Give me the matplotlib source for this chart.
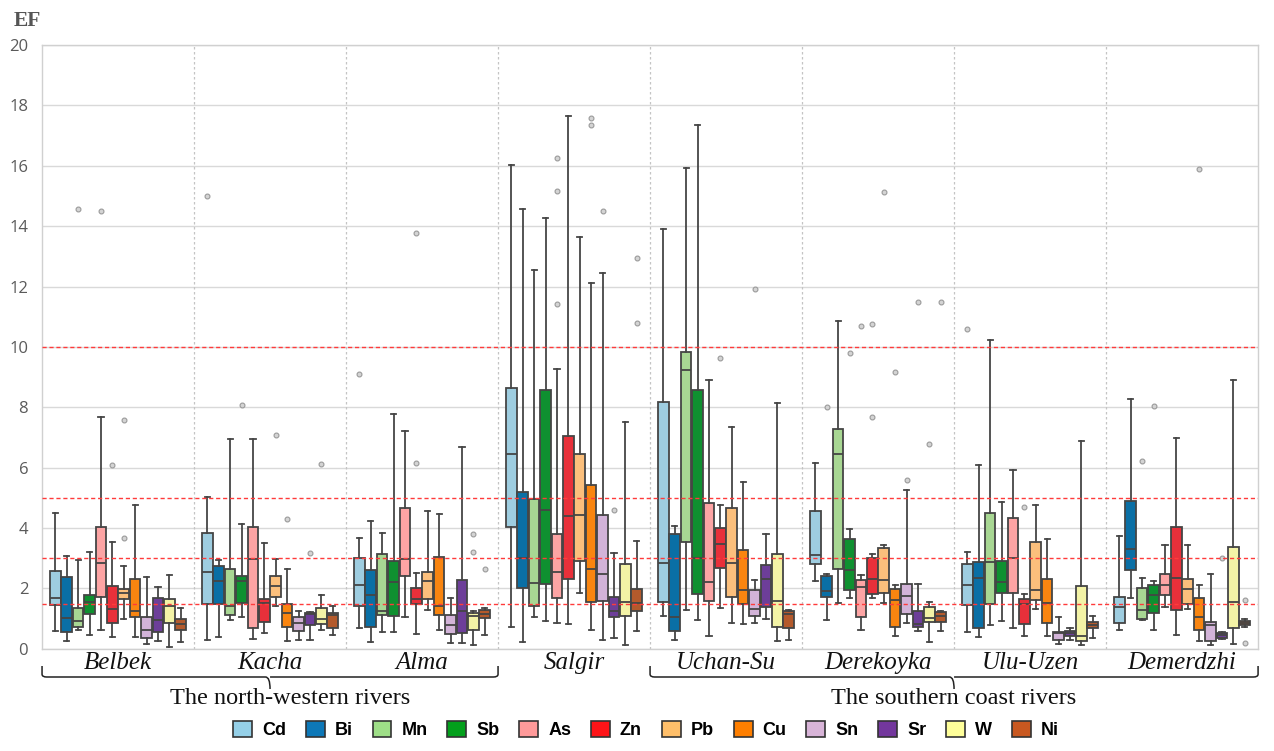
"""
EF box plots for the Crimean rivers, 12 elements per river.
"""

import numpy as np
import matplotlib.pyplot as plt
from matplotlib.path import Path
from matplotlib.patches import PathPatch, Patch
from matplotlib.transforms import blended_transform_factory

plt.rcParams.update({
    'font.family': ['Open Sans', 'DejaVu Sans'],
    'axes.edgecolor': '#d0d0d0',
    'axes.linewidth': 1.0,
})

elements = ['Cd', 'Bi', 'Mn', 'Sb', 'As', 'Zn', 'Pb', 'Cu', 'Sn', 'Sr', 'W', 'Ni']
rivers = ['Belbek', 'Kacha', 'Alma', 'Salgir', 'Uchan-Su',
          'Derekoyka', 'Ulu-Uzen', 'Demerdzhi']

# (whisker low, q1, median, q3, whisker high) for each element, in order above
belbek = [(0.60, 1.45, 1.69, 2.58, 4.50), (0.26, 0.57, 1.02, 2.38, 3.08),
          (0.64, 0.74, 0.91, 1.34, 2.94), (0.46, 1.17, 1.55, 1.80, 3.22),
          (0.64, 1.71, 2.83, 4.05, 7.67), (0.40, 0.85, 1.31, 2.08, 3.54),
          (1.00, 1.66, 1.85, 1.99, 2.74), (0.39, 1.04, 1.25, 2.31, 4.75),
          (0.15, 0.36, 0.64, 1.06, 2.38), (0.26, 0.57, 0.96, 1.70, 2.05),
          (0.06, 0.85, 1.41, 1.66, 2.45), (0.24, 0.61, 0.81, 0.99, 1.36)]
belbek_out = [[], [], [14.58], [], [14.51], [6.09], [7.59, 3.66], [], [], [], [], []]

kacha = [(0.29, 1.48, 2.55, 3.84, 5.03), (0.39, 1.48, 2.24, 2.73, 2.94),
         (0.95, 1.13, 1.41, 2.66, 6.94), (1.06, 1.52, 2.24, 2.41, 4.12),
         (0.33, 0.68, 2.98, 4.05, 6.94), (0.52, 0.88, 1.52, 1.66, 3.50),
         (1.41, 1.71, 2.08, 2.41, 2.98), (0.25, 0.74, 1.20, 1.48, 2.63),
         (0.29, 0.60, 0.85, 1.06, 1.27), (0.29, 0.78, 1.16, 1.20, 1.23),
         (0.61, 0.81, 0.99, 1.34, 1.78), (0.46, 0.68, 1.13, 1.20, 1.41)]
kacha_out = [[15.01], [], [], [8.09], [], [], [7.09], [4.29], [], [3.19], [6.11], []]

alma = [(0.68, 1.43, 2.13, 3.01, 3.68), (0.22, 0.74, 1.80, 2.62, 4.23),
        (0.57, 1.13, 1.27, 3.15, 3.84), (0.57, 1.10, 2.21, 2.91, 7.77),
        (1.06, 2.41, 2.98, 4.65, 7.21), (0.50, 1.48, 1.64, 2.01, 2.52),
        (1.30, 1.64, 2.24, 2.56, 4.58), (0.64, 1.13, 1.43, 3.05, 4.47),
        (0.18, 0.50, 0.78, 1.13, 1.69), (0.19, 0.54, 1.24, 2.28, 6.67),
        (0.13, 0.61, 1.09, 1.20, 1.27), (0.46, 1.02, 1.16, 1.30, 1.36)]
alma_out = [[9.12], [], [], [], [], [13.76, 6.14], [], [], [], [], [3.80, 3.22], [2.63]]

salgir = [(0.74, 4.05, 6.47, 8.64, 16.04), (0.23, 2.00, 3.00, 5.18, 14.58),
          (1.05, 1.41, 2.18, 4.97, 12.55), (0.92, 2.15, 4.60, 8.57, 14.26),
          (0.86, 1.70, 2.53, 3.81, 9.28), (0.81, 2.31, 4.39, 7.04, 17.64),
          (1.86, 2.92, 4.44, 6.44, 13.65), (0.62, 1.55, 2.65, 5.43, 12.12),
          (0.28, 1.57, 2.48, 4.45, 12.45), (0.37, 1.06, 1.24, 1.72, 3.19),
          (0.14, 1.08, 1.55, 2.82, 7.53), (0.59, 1.27, 1.51, 1.98, 3.56)]
salgir_out = [[], [], [], [], [16.26, 15.16, 11.43], [], [], [17.57, 17.36],
              [14.51], [4.60], [], [12.96, 10.81]]

uchan = [(1.10, 1.55, 2.86, 8.17, 13.91), (0.31, 0.59, 1.05, 3.80, 4.08),
         (1.30, 3.53, 9.24, 9.84, 15.94), (0.96, 1.82, 3.02, 8.57, 17.35),
         (0.41, 1.60, 2.22, 4.83, 8.89), (1.36, 2.67, 3.46, 4.00, 4.78),
         (0.86, 1.72, 2.86, 4.67, 7.36), (0.84, 1.47, 1.96, 3.29, 5.54),
         (0.86, 1.10, 1.33, 1.96, 2.28), (0.98, 1.39, 2.33, 2.77, 3.80),
         (0.25, 0.72, 1.60, 3.14, 8.14), (0.30, 0.69, 1.17, 1.27, 1.30)]
uchan_out = [[], [], [], [], [], [9.63], [], [], [11.93], [], [], []]

derekoyka = [(2.25, 2.82, 3.10, 4.55, 6.14), (0.95, 1.73, 1.92, 2.41, 2.47),
             (1.51, 2.64, 6.44, 7.29, 10.85), (1.67, 1.94, 2.60, 3.65, 3.98),
             (0.62, 1.05, 2.06, 2.28, 2.45), (1.67, 1.82, 2.31, 3.02, 3.14),
             (1.51, 1.86, 2.28, 3.35, 3.44), (0.41, 0.74, 1.61, 1.98, 2.10),
             (0.86, 1.14, 1.76, 2.16, 5.27), (0.59, 0.72, 0.84, 1.27, 2.15),
             (0.23, 0.90, 1.02, 1.39, 1.55), (0.59, 0.90, 1.08, 1.21, 1.24)]
derekoyka_out = [[], [8.02], [], [9.81], [10.71], [10.77, 7.67], [15.13], [9.18],
                 [5.59], [11.49], [6.77], [11.49]]

ulu = [(0.57, 1.45, 2.10, 2.80, 3.20), (0.39, 0.69, 2.36, 2.87, 6.09),
       (0.79, 1.49, 2.87, 4.50, 10.23), (0.91, 1.84, 2.23, 2.92, 4.85),
       (0.69, 1.84, 3.02, 4.33, 5.91), (0.43, 0.84, 1.50, 1.66, 1.82),
       (1.33, 1.61, 1.94, 3.53, 4.75), (0.43, 0.86, 1.51, 2.31, 3.65),
       (0.17, 0.29, 0.51, 0.57, 1.07), (0.29, 0.43, 0.51, 0.59, 0.69),
       (0.13, 0.25, 0.41, 2.09, 6.90), (0.35, 0.69, 0.80, 0.90, 1.08)]
ulu_out = [[10.59], [], [], [], [], [4.69], [], [], [], [], [], []]

demerdzhi = [(0.62, 0.87, 1.39, 1.73, 3.75), (1.67, 2.61, 3.32, 4.90, 8.26),
             (0.96, 1.00, 1.29, 2.00, 2.34), (0.64, 1.18, 1.79, 2.10, 2.26),
             (1.38, 1.80, 2.10, 2.47, 3.43), (0.47, 1.29, 2.34, 4.02, 6.99),
             (1.33, 1.47, 1.99, 2.33, 3.43), (0.27, 0.64, 1.06, 1.70, 2.12),
             (0.14, 0.26, 0.80, 0.90, 2.49), (0.32, 0.35, 0.45, 0.53, 0.56),
             (0.17, 0.69, 1.55, 3.37, 8.89), (0.72, 0.80, 0.86, 0.93, 1.00)]
demerdzhi_out = [[], [], [6.22], [8.05], [], [], [], [15.9], [], [3.02], [],
                 [1.63, 0.20]]

river_stats = [belbek, kacha, alma, salgir, uchan, derekoyka, ulu, demerdzhi]
river_out = [belbek_out, kacha_out, alma_out, salgir_out, uchan_out,
             derekoyka_out, ulu_out, demerdzhi_out]

thresholds = [1.5, 3, 5, 10]
# label, first river, end river, text shift from the brace tip
groups = [('The north-western rivers', 0, 3, 0.13), ('The southern coast rivers', 4, 8, 0.0)]

box_colors = ['#9ecde0', '#0a6fa5', '#a8d793', '#0f9030', '#fda4a4', '#e8303a',
              '#fbbf7c', '#f98510', '#d2b3d8', '#6d3e99', '#f3f3a6', '#b45a2c']
legend_colors = ['#95d0e8', '#0d78b8', '#9ede87', '#03a01c', '#ff9a9a', '#ff1418',
                 '#ffbf6a', '#ff7f00', '#d8b4d8', '#73379d', '#ffff9a', '#c85820']

fig = plt.figure(figsize=(12.74, 7.51), dpi=100)
ax = fig.add_axes([0.033, 0.136, 0.9545, 0.804])

n_el = len(elements)
slot = 0.9 / n_el
line_c = '#454545'

for i, (stats, outs) in enumerate(zip(river_stats, river_out)):
    bstats = []
    for (lo, q1, med, q3, hi), fl in zip(stats, outs):
        bstats.append(dict(whislo=lo, q1=q1, med=med, q3=q3, whishi=hi,
                           fliers=np.array(fl)))
    pos = i + 0.05 + slot * (np.arange(n_el) + 0.5)
    bp = ax.bxp(bstats, positions=pos, widths=slot * 0.93, capwidths=slot * 0.45,
                patch_artist=True, manage_ticks=False,
                boxprops=dict(edgecolor=line_c, linewidth=1.3),
                medianprops=dict(color=line_c, linewidth=1.3),
                whiskerprops=dict(color=line_c, linewidth=1.3),
                capprops=dict(color=line_c, linewidth=1.3),
                flierprops=dict(marker='o', markersize=3.5, markerfacecolor='#d4d4d4',
                                markeredgecolor='#9a9a9a', markeredgewidth=0.8))
    for patch, c in zip(bp['boxes'], box_colors):
        patch.set_facecolor(c)
    for art in bp['boxes'] + bp['medians'] + bp['whiskers'] + bp['caps'] + bp['fliers']:
        art.set_zorder(3)

for t in thresholds:
    ax.axhline(t, color='#ff3b3b', lw=1.0, ls=(0, (3, 2)), zorder=4)

for b in range(1, len(rivers)):
    ax.axvline(b, color='#c4c4c4', lw=0.9, ls=(0, (2, 2)), zorder=1)

ax.set_xlim(0, len(rivers))
ax.set_ylim(0, 20)
ax.set_yticks(range(0, 21, 2))
ax.yaxis.grid(True, color='#d9d9d9', lw=1.0, zorder=0)
ax.set_axisbelow(True)
ax.tick_params(axis='y', length=0, pad=10, labelsize=12, labelcolor='#5a5a5a')
ax.set_xticks(np.arange(len(rivers)) + 0.5)
ax.set_xticklabels(rivers, fontfamily='Liberation Serif', fontstyle='italic',
                   fontsize=18, color='#111111')
ax.tick_params(axis='x', length=0, pad=2)

fig.text(0.011, 0.972, 'EF', fontfamily='Liberation Serif', fontweight='bold',
         fontsize=15.5, color='#555555', va='center', ha='left')

# curly braces under the river groups
trans = blended_transform_factory(ax.transData, fig.transFigure)
y_top, y_mid, y_bot = 1 - 666 / 751, 1 - 677 / 751, 1 - 689 / 751
dy = (y_mid - y_top) * 0.25
r = 0.03
for label, x0, x1, shift in groups:
    xc = (x0 + x1) / 2
    verts = [(x0, y_top), (x0, y_mid - dy), (x0, y_mid), (x0 + r, y_mid),
             (xc - r, y_mid), (xc, y_mid), (xc, y_bot),
             (xc, y_mid), (xc + r, y_mid),
             (x1 - r, y_mid), (x1, y_mid), (x1, y_mid - dy), (x1, y_top)]
    codes = [Path.MOVETO, Path.LINETO, Path.CURVE3, Path.CURVE3,
             Path.LINETO, Path.CURVE3, Path.CURVE3,
             Path.MOVETO, Path.LINETO,
             Path.LINETO, Path.CURVE3, Path.CURVE3, Path.LINETO]
    fig.add_artist(PathPatch(Path(verts, codes), transform=trans, fill=False,
                             edgecolor='#222222', lw=1.1, clip_on=False))
    ax.text(xc + shift, 1 - 698 / 751, label, transform=trans, ha='center', va='center',
            fontfamily='Liberation Serif', fontsize=17.5, color='#111111')

handles = [Patch(facecolor=c, edgecolor='#333333', linewidth=1.2, label=e)
           for e, c in zip(elements, legend_colors)]
fig.legend(handles=handles, ncol=n_el, loc='center', bbox_to_anchor=(0.507, 0.028),
           frameon=False, handlelength=1.05, handleheight=1.05, handletextpad=0.55,
           columnspacing=1.1, prop=dict(family='Liberation Sans', weight='bold', size=13))

fig.savefig('out.png', dpi=100)
